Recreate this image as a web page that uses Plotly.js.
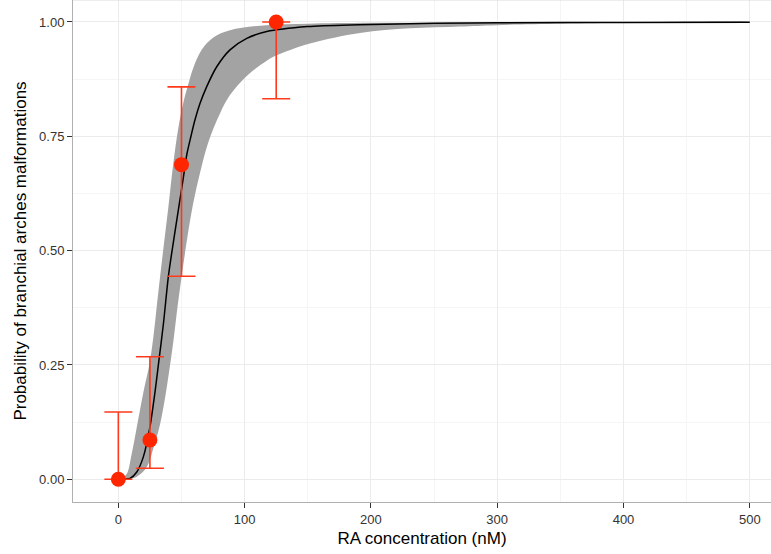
<!DOCTYPE html>
<html>
<head>
<meta charset="utf-8">
<script src="https://cdn.plot.ly/plotly-3.0.1.min.js"></script>
<style>html,body{margin:0;padding:0;background:#fff;}#chart{width:771px;height:554px;}</style>
</head>
<body>
<div id="chart"></div>
<script>
// Observed data (RA concentration, probability, 95% CI)
var doseObs = [0, 25, 50, 125];
var probObs = [0, 0.086, 0.688, 1.0];
var ciLow   = [0, 0.024, 0.444, 0.832];
var ciHigh  = [0.147, 0.268, 0.858, 1.0];

// Fitted curve
var fitX = [0, 5, 9.3, 14.6, 19.8, 25, 29, 31.7, 35.7, 39.6, 43.1, 47.6, 51.5, 54.2, 57.5, 60.7, 64.7, 69.9, 77.9, 88.4, 101.7, 117.5, 150, 191, 250, 300, 400, 500];
var fitY = [0, 0.0005, 0.002, 0.016, 0.049, 0.114, 0.19, 0.25, 0.34, 0.443, 0.51, 0.59, 0.66, 0.71, 0.75, 0.786, 0.822, 0.858, 0.902, 0.939, 0.964, 0.979, 0.99, 0.994, 0.997, 0.998, 0.999, 0.9995];

// Confidence band, upper edge
var bandUpX = [0, 3, 6.7, 10.6, 14.6, 19.8, 24.5, 27.7, 31.7, 35.7, 39.6, 43.5, 47.6, 52, 55.5, 59.4, 66, 75.2, 88.4, 117.5, 150, 200, 300, 400, 500];
var bandUpY = [0, 0.003, 0.012, 0.056, 0.114, 0.19, 0.25, 0.31, 0.41, 0.505, 0.595, 0.69, 0.77, 0.83, 0.865, 0.9, 0.939, 0.966, 0.982, 0.993, 0.996, 0.998, 0.999, 0.9995, 1.0];

// Confidence band, lower edge
var bandLoX = [0, 6, 11.7, 16, 22.5, 28, 33, 36.5, 39.6, 43.5, 47, 51.5, 55, 59.4, 64.7, 71, 80.5, 88.4, 101.7, 117.5, 125.4, 151.8, 191.3, 230.9, 270.5, 300, 400, 500];
var bandLoY = [0, 0.0003, 0.002, 0.008, 0.027, 0.07, 0.12, 0.17, 0.224, 0.30, 0.38, 0.47, 0.535, 0.605, 0.67, 0.735, 0.80, 0.84, 0.882, 0.915, 0.927, 0.953, 0.976, 0.986, 0.99, 0.993, 0.998, 0.9995];

var xTicks = [0, 100, 200, 300, 400, 500];
var yTicks = [0, 0.25, 0.5, 0.75, 1.0];
var yTickText = ['0.00', '0.25', '0.50', '0.75', '1.00'];

var bandX = bandUpX.concat(bandLoX.slice().reverse());
var bandY = bandUpY.concat(bandLoY.slice().reverse());

var traces = [
  {
    x: bandX, y: bandY, type: 'scatter', mode: 'lines',
    fill: 'toself', fillcolor: 'rgb(163,163,163)',
    line: {width: 0, color: 'rgba(0,0,0,0)', shape: 'spline', smoothing: 1},
    hoverinfo: 'skip', showlegend: false
  },
  {
    x: fitX, y: fitY, type: 'scatter', mode: 'lines',
    line: {color: '#000000', width: 1.5, shape: 'spline', smoothing: 0.8},
    showlegend: false
  },
  {
    x: doseObs, y: probObs, type: 'scatter', mode: 'markers',
    marker: {color: '#ff2600', size: 15, line: {width: 0}},
    error_y: {
      type: 'data', symmetric: false,
      array: probObs.map(function (v, i) { return ciHigh[i] - v; }),
      arrayminus: probObs.map(function (v, i) { return v - ciLow[i]; }),
      color: '#ff3a1c', thickness: 1.6, width: 14
    },
    showlegend: false
  }
];

var fontFam = 'Liberation Sans, Arial, Helvetica, sans-serif';

var layout = {
  width: 771, height: 554,
  margin: {l: 73, r: 0, t: 0, b: 52, pad: 0},
  paper_bgcolor: '#ffffff', plot_bgcolor: '#ffffff',
  font: {family: fontFam, color: '#000000'},
  showlegend: false,
  xaxis: {
    range: [-35.9, 516.8],
    tickvals: xTicks, ticktext: xTicks.map(String),
    ticks: 'outside', ticklen: 5, tickwidth: 1, tickcolor: '#333333',
    tickfont: {size: 13, color: '#333333', family: fontFam},
    showgrid: true, gridcolor: '#ebebeb', gridwidth: 1,
    minor: {dtick: 50, tick0: 0, showgrid: true, gridcolor: '#f5f5f5', gridwidth: 1, ticks: ''},
    showline: true, linecolor: '#b0b0b0', linewidth: 1,
    zeroline: false,
    title: {text: 'RA concentration (nM)', font: {size: 17, color: '#000000', family: fontFam}, standoff: 6}
  },
  yaxis: {
    range: [-0.0497, 1.048],
    tickvals: yTicks, ticktext: yTickText,
    ticks: 'outside', ticklen: 5, tickwidth: 1, tickcolor: '#333333',
    tickfont: {size: 13, color: '#333333', family: fontFam},
    showgrid: true, gridcolor: '#ebebeb', gridwidth: 1,
    minor: {dtick: 0.125, tick0: 0, showgrid: true, gridcolor: '#f5f5f5', gridwidth: 1, ticks: ''},
    showline: true, linecolor: '#b0b0b0', linewidth: 1,
    zeroline: false,
    title: {text: 'Probability of branchial arches malformations', font: {size: 17, color: '#000000', family: fontFam}, standoff: 8}
  },
  shapes: [
    {type: 'line', xref: 'paper', yref: 'paper', x0: 0, x1: 1, y0: 1, y1: 1,
     line: {color: '#dcdcdc', width: 1}}
  ]
};

Plotly.newPlot('chart', traces, layout, {staticPlot: true, displayModeBar: false});
</script>
</body>
</html>
